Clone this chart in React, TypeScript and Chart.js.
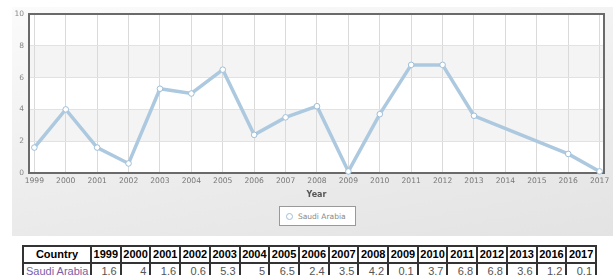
import React, { useEffect, useRef } from "react";
import { Chart, registerables } from "chart.js";

Chart.register(...registerables);

const SERIES_NAME = "Saudi Arabia";
const YEARS = [1999, 2000, 2001, 2002, 2003, 2004, 2005, 2006, 2007, 2008, 2009, 2010, 2011, 2012, 2013, 2016, 2017];
const VALUES = [1.6, 4, 1.6, 0.6, 5.3, 5, 6.5, 2.4, 3.5, 4.2, 0.1, 3.7, 6.8, 6.8, 3.6, 1.2, 0.1];
const X_FIRST = 1999;
const X_LAST = 2017;
const X_MIN = 1998.83;
const X_MAX = 2017.14;
const Y_TICKS = [0, 2, 4, 6, 8, 10];
const X_TITLE = "Year";
const TABLE_FIRST_HEADER = "Country";

const FONT = "'DejaVu Sans', Verdana, sans-serif";

const customPlugin = {
  id: "custom",
  beforeDraw(chart: any) {
    const { ctx, chartArea, scales } = chart;
    const { left, right, top, bottom } = chartArea;
    const y = scales.y;
    ctx.save();
    ctx.fillStyle = "#ffffff";
    ctx.fillRect(left, top, right - left, bottom - top);
    ctx.fillStyle = "#f4f4f4";
    for (let i = 0; i < Y_TICKS.length - 1; i++) {
      if (i % 2 === 1) {
        const y0 = y.getPixelForValue(Y_TICKS[i]);
        const y1 = y.getPixelForValue(Y_TICKS[i + 1]);
        ctx.fillRect(left, y1, right - left, y0 - y1);
      }
    }
    ctx.restore();
  },
  beforeDatasetsDraw(chart: any) {
    const { ctx, chartArea } = chart;
    const { left, right, top, bottom } = chartArea;
    ctx.save();
    ctx.strokeStyle = "#6a6a6a";
    ctx.lineWidth = 2;
    ctx.strokeRect(left, top, right - left, bottom - top);
    ctx.restore();
  },
  afterDraw(chart: any) {
    const { ctx, chartArea, scales } = chart;
    const x = scales.x;
    ctx.save();
    ctx.font = `7.6px ${FONT}`;
    ctx.fillStyle = "#777";
    ctx.textBaseline = "middle";
    ctx.textAlign = "center";
    for (let v = X_FIRST; v <= X_LAST; v++) {
      ctx.fillText(String(v), x.getPixelForValue(v), chartArea.bottom + 8.5);
    }
    ctx.font = `bold 8px ${FONT}`;
    ctx.fillStyle = "#555";
    ctx.fillText(X_TITLE, (chartArea.left + chartArea.right) / 2, chartArea.bottom + 22);
    ctx.restore();
  },
};

function LineChart() {
  const ref = useRef<HTMLCanvasElement | null>(null);
  useEffect(() => {
    if (!ref.current) return;
    const chart = new Chart(ref.current, {
      type: "line",
      data: {
        datasets: [
          {
            label: SERIES_NAME,
            data: YEARS.map((yr, i) => ({ x: yr, y: VALUES[i] })),
            borderColor: "#adc9df",
            borderWidth: 3.5,
            pointRadius: 2.8,
            pointBackgroundColor: "#ffffff",
            pointBorderColor: "#9fbfd9",
            pointBorderWidth: 1,
            tension: 0,
            clip: false,
          },
        ],
      },
      options: {
        animation: false,
        responsive: false,
        devicePixelRatio: 1,
        layout: { padding: { left: 0, right: 9, top: 14, bottom: 67 } },
        plugins: { legend: { display: false }, tooltip: { enabled: false } },
        scales: {
          x: {
            type: "linear",
            min: X_MIN,
            max: X_MAX,
            ticks: { display: false, stepSize: 1, includeBounds: false },
            grid: { color: "#dadada", drawTicks: false },
            border: { display: false },
            afterFit(scale: any) {
              scale.height = 0;
              scale.paddingLeft = 0;
              scale.paddingRight = 0;
            },
          },
          y: {
            min: 0,
            max: 10,
            ticks: { stepSize: 2, color: "#888", padding: 5, font: { size: 7.5, family: FONT } },
            grid: { color: "#e2e2e2", drawTicks: false },
            border: { display: false },
            afterFit(scale: any) {
              scale.width = 29;
              scale.paddingTop = 0;
              scale.paddingBottom = 0;
            },
          },
        },
      },
      plugins: [customPlugin],
    } as any);
    return () => chart.destroy();
  }, []);
  return (
    <canvas
      ref={ref}
      width={613}
      height={240}
      style={{ position: "absolute", left: 0, top: 0, width: 613, height: 240 }}
    />
  );
}

export default function App() {
  const cell: React.CSSProperties = {
    border: "2px solid #333",
    padding: "1px 3px",
    lineHeight: "13px",
    fontSize: 11,
    whiteSpace: "nowrap",
    overflow: "hidden",
  };
  return (
    <div style={{ position: "absolute", left: 0, top: 0, width: 613, height: 275, overflow: "hidden" }}>
      <div
        style={{
          position: "absolute",
          left: 12,
          top: 7,
          width: 601,
          height: 229,
          background: "linear-gradient(170deg, #fbfbfb 0%, #ececec 60%, #e3e3e3 100%)",
        }}
      />
      <LineChart />
      <div
        style={{
          position: "absolute",
          left: 279,
          top: 206,
          width: 75,
          height: 18,
          border: "1px solid #999",
          background: "#fff",
          fontFamily: FONT,
          fontSize: 7.5,
          color: "#888",
          display: "flex",
          alignItems: "center",
        }}
      >
        <span
          style={{
            display: "inline-block",
            width: 5,
            height: 5,
            borderRadius: "50%",
            border: "1px solid #9fbfd9",
            background: "#fff",
            marginLeft: 6,
            marginRight: 5,
          }}
        />
        <span>{SERIES_NAME}</span>
      </div>
      <table
        style={{
          position: "absolute",
          left: 22,
          top: 245,
          width: 575,
          borderCollapse: "collapse",
          tableLayout: "fixed",
          fontFamily: "'Liberation Sans', Arial, sans-serif",
        }}
      >
        <colgroup>
          <col style={{ width: 68 }} />
          {YEARS.map((y) => (
            <col key={y} />
          ))}
        </colgroup>
        <thead>
          <tr>
            <th style={{ ...cell, fontWeight: "bold", textAlign: "center", color: "#000" }}>{TABLE_FIRST_HEADER}</th>
            {YEARS.map((y) => (
              <th key={y} style={{ ...cell, fontWeight: "bold", textAlign: "center", color: "#000", padding: "1px 1px" }}>
                {y}
              </th>
            ))}
          </tr>
        </thead>
        <tbody>
          <tr>
            <td style={{ ...cell, color: "#7b5ea7", textAlign: "left", padding: "1px 2px" }}>{SERIES_NAME}</td>
            {VALUES.map((v, i) => (
              <td key={i} style={{ ...cell, color: "#555", textAlign: "right" }}>
                {v}
              </td>
            ))}
          </tr>
        </tbody>
      </table>
    </div>
  );
}
